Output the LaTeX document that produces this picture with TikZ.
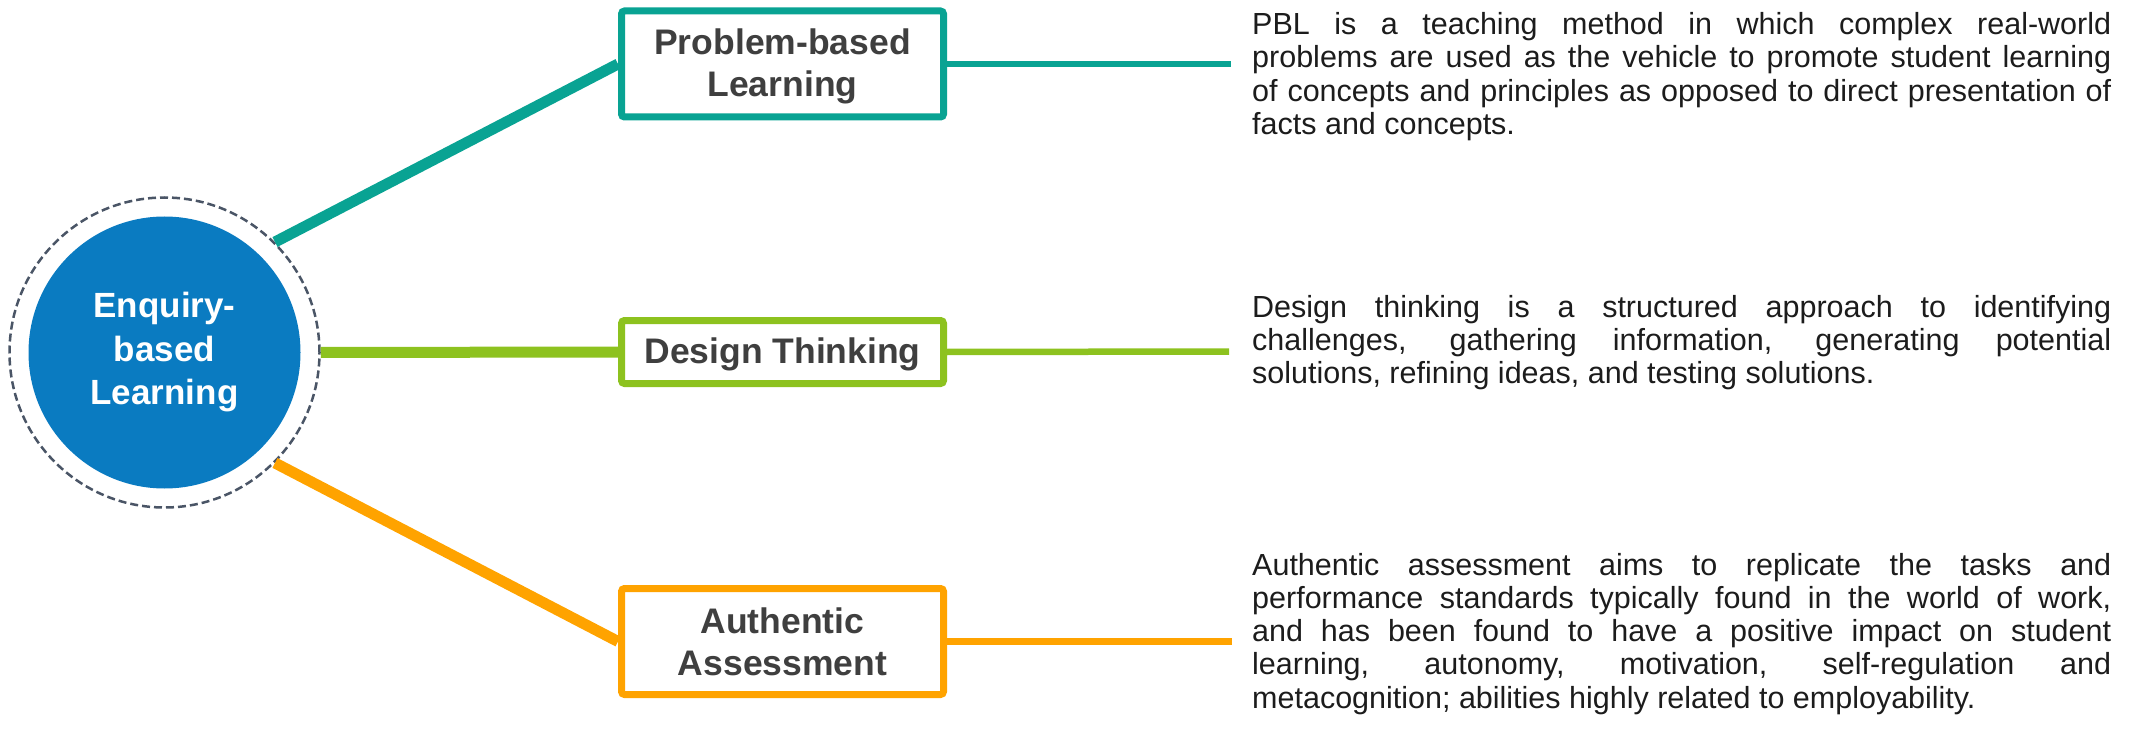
\documentclass[tikz,border=0pt]{standalone}
\usepackage{fontspec}
\setmainfont{Liberation Sans}
\definecolor{eblblue}{HTML}{0A7BC1}
\definecolor{ringgray}{HTML}{4A5566}
\definecolor{pblcol}{HTML}{09A393}
\definecolor{dtcol}{HTML}{8DC21F}
\definecolor{aacol}{HTML}{FFA300}
\definecolor{boxtext}{HTML}{3F3F3F}
\definecolor{bodytext}{HTML}{1C1C1C}
\hyphenpenalty=10000
\exhyphenpenalty=10000
\tolerance=10000
\hbadness=10000
% raises the top of a first line so that the text sits a little lower
\newcommand{\toplift}[1]{\rule{0pt}{#1}}
\begin{document}
\begin{tikzpicture}[x=1pt,y=-1pt,
  hub/.style={circle, fill=eblblue, minimum size=272pt, inner sep=0pt,
    text=white, align=center, font=\bfseries\fontsize{35}{43.5}\selectfont},
  hubring/.style={circle, draw=ringgray, line width=2.5pt,
    dash pattern=on 8pt off 4pt, minimum size=310pt, inner sep=0pt},
  topicbox/.style={draw=#1, line width=7pt, rounded corners=3pt, fill=white,
    minimum width=322pt, inner sep=0pt, text=boxtext, align=center,
    font=\bfseries\fontsize{35.5}{42}\selectfont},
  link/.style={draw=#1, line width=11pt},
  lead/.style={draw=#1, line width=6.5pt},
  desc/.style={anchor=north west, inner sep=0pt, text width=859pt,
    align=justify, text=bodytext, font=\fontsize{30.5}{33.3}\selectfont}]
\useasboundingbox (0,0) rectangle (2133,735);

% central topic
\node[hubring] (ring) at (164.5,352.5) {};
\node[hub] (hub) at (164.5,352.5) {Enquiry-\\based\\Learning};

% the three approaches
\node[topicbox=pblcol, minimum height=106pt] (pbl) at (782.5,64)
  {\toplift{31.5pt}Problem-based\\Learning};
\node[topicbox=dtcol, minimum height=63pt] (dt) at (782.5,352)
  {\toplift{31.5pt}Design Thinking};
\node[topicbox=aacol, minimum height=106pt] (aa) at (782.5,641.5)
  {Authentic\\Assessment};

% branches from the hub
\draw[link=pblcol] (ring.45) -- (pbl.west);
\draw[link=dtcol] (ring.east) -- (dt.west);
\draw[link=aacol] (ring.-45) -- (aa.west);

% leaders to the descriptions
\coordinate (pblend) at (1231,64);
\coordinate (dtend) at (1229,351.5);
\coordinate (aaend) at (1232,641.5);
\draw[lead=pblcol] (pbl.east) -- (pblend);
\draw[lead=dtcol] (dt.east) -- (dtend);
\draw[lead=aacol] (aa.east) -- (aaend);

% descriptions
\node[desc] (pbltext) at (1252,11) {\strut PBL is a teaching method in which complex real-world\linebreak
problems are used as the vehicle to promote student learning\linebreak
of concepts and principles as opposed to direct presentation of\linebreak
facts and concepts.};
\node[desc] (dttext) at (1252,293.5) {\strut Design thinking is a structured approach to identifying\linebreak
challenges, gathering information, generating potential\linebreak
solutions, refining ideas, and testing solutions.};
\node[desc] (aatext) at (1252,551.5) {\strut Authentic assessment aims to replicate the tasks and\linebreak
performance standards typically found in the world of work,\linebreak
and has been found to have a positive impact on student\linebreak
learning, autonomy, motivation, self-regulation and\linebreak
metacognition; abilities highly related to employability.};
\end{tikzpicture}
\end{document}
